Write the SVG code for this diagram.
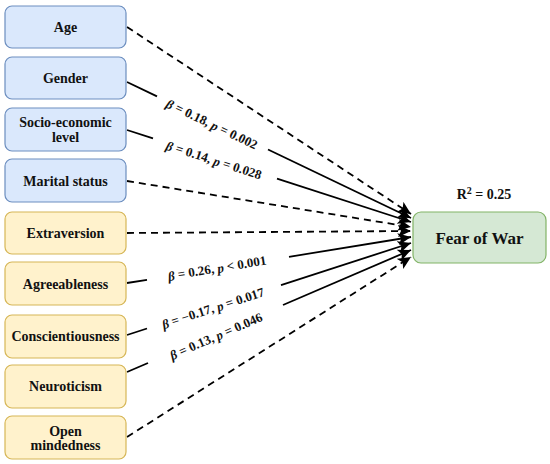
<svg xmlns="http://www.w3.org/2000/svg" width="550" height="464" viewBox="0 0 550 464" font-family="'Liberation Serif', 'DejaVu Serif', 'Times New Roman', serif">
<style>
.b{fill:#dae8fc;stroke:#6c8ebf;stroke-width:1.2}
.y{fill:#fff2cc;stroke:#d6b656;stroke-width:1.2}
.g{fill:#d5e8d4;stroke:#82b366;stroke-width:1.2}
.t{font-family:'Liberation Serif','DejaVu Serif',serif;font-weight:bold;fill:#111;font-size:14px;text-anchor:middle;dominant-baseline:central}
.l{font-family:'Liberation Serif','DejaVu Serif',serif;font-weight:bold;fill:#111;font-size:13px;text-anchor:middle;dominant-baseline:central}
.s{stroke:#000;stroke-width:1.8;fill:none}
.d{stroke:#000;stroke-width:1.8;fill:none;stroke-dasharray:7 5}
</style>
<defs>
<marker id="ah" markerUnits="userSpaceOnUse" markerWidth="14" markerHeight="12" refX="13" refY="6" orient="auto">
<path d="M0,0 L13,6 L0,12 L3,6 Z" fill="#000"/>
</marker>
</defs>
<rect width="550" height="464" fill="#fff"/>
<g id="connectors">
<line class="d" x1="127" y1="27" x2="411" y2="214" marker-end="url(#ah)"/>
<line class="s" x1="127" y1="82" x2="157" y2="96.4"/>
<line class="s" x1="268" y1="149.5" x2="411" y2="218" marker-end="url(#ah)"/>
<line class="s" x1="127" y1="130" x2="153" y2="138.4"/>
<line class="s" x1="277" y1="178.6" x2="411" y2="222" marker-end="url(#ah)"/>
<line class="d" x1="127" y1="181" x2="411" y2="227" marker-end="url(#ah)"/>
<line class="d" x1="127" y1="233" x2="411" y2="231" marker-end="url(#ah)"/>
<line class="s" x1="127" y1="283" x2="147" y2="279.8"/>
<line class="s" x1="289" y1="256.8" x2="411" y2="237" marker-end="url(#ah)"/>
<line class="s" x1="127" y1="335" x2="147" y2="328.5"/>
<line class="s" x1="281" y1="285.1" x2="411" y2="243" marker-end="url(#ah)"/>
<line class="s" x1="127" y1="372" x2="148" y2="363"/>
<line class="s" x1="283" y1="305" x2="411" y2="250" marker-end="url(#ah)"/>
<line class="d" x1="127" y1="437" x2="411" y2="257" marker-end="url(#ah)"/>
<text class="l" transform="translate(212,124) rotate(25.6)"><tspan font-style="italic">β</tspan> = 0.18, <tspan font-style="italic">p</tspan> = 0.002</text>
<text class="l" transform="translate(214,160) rotate(17.9)"><tspan font-style="italic">β</tspan> = 0.14, <tspan font-style="italic">p</tspan> = 0.028</text>
<text class="l" transform="translate(217,268) rotate(-9.2)"><tspan font-style="italic">β</tspan> = 0.26, <tspan font-style="italic">p</tspan> &lt; 0.001</text>
<text class="l" transform="translate(213,308) rotate(-17.9)"><tspan font-style="italic">β</tspan> = −0.17, <tspan font-style="italic">p</tspan> = 0.017</text>
<text class="l" transform="translate(216,336) rotate(-23.3)"><tspan font-style="italic">β</tspan> = 0.13, <tspan font-style="italic">p</tspan> = 0.046</text>
</g>
<g id="age"><rect class="b" x="5" y="6" width="121" height="42" rx="7"/><text class="t" x="65.5" y="27">Age</text></g>
<g id="gender"><rect class="b" x="5" y="57" width="121" height="42" rx="7"/><text class="t" x="65.5" y="78">Gender</text></g>
<g id="socio"><rect class="b" x="5" y="108" width="121" height="43" rx="7"/><text class="t" x="65.5" y="122">Socio-economic</text><text class="t" x="65.5" y="137">level</text></g>
<g id="marital"><rect class="b" x="5" y="159" width="121" height="43" rx="7"/><text class="t" x="65.5" y="181">Marital status</text></g>
<g id="extraversion"><rect class="y" x="5" y="212" width="121" height="42" rx="7"/><text class="t" x="65.5" y="233">Extraversion</text></g>
<g id="agreeableness"><rect class="y" x="5" y="262" width="121" height="43" rx="7"/><text class="t" x="65.5" y="284">Agreeableness</text></g>
<g id="conscientiousness"><rect class="y" x="5" y="315" width="121" height="43" rx="7"/><text class="t" x="65.5" y="336">Conscientiousness</text></g>
<g id="neuroticism"><rect class="y" x="5" y="365" width="121" height="43" rx="7"/><text class="t" x="65.5" y="386">Neuroticism</text></g>
<g id="open"><rect class="y" x="5" y="416" width="121" height="43" rx="7"/><text class="t" x="65.5" y="431">Open</text><text class="t" x="65.5" y="445">mindedness</text></g>
<g id="fear"><rect class="g" x="413" y="212" width="133" height="51" rx="8"/><text class="t" x="479.5" y="238" style="font-size:17px">Fear of War</text></g>
<g id="r2"><text x="484" y="199" style="font-family:'Liberation Serif','DejaVu Serif',serif;font-weight:bold;fill:#111;font-size:14px;text-anchor:middle">R<tspan dy="-5" font-size="10">2</tspan><tspan dy="5"> = 0.25</tspan></text></g>
</svg>
